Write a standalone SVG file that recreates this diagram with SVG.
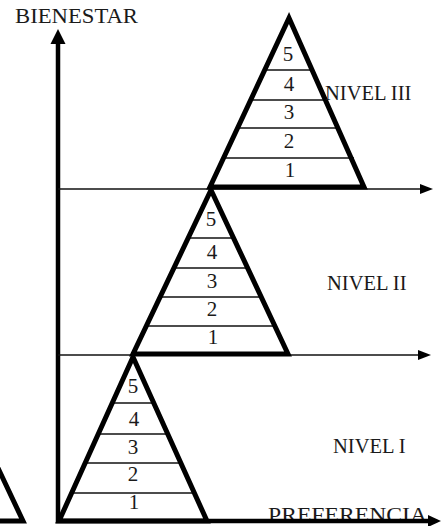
<svg xmlns="http://www.w3.org/2000/svg" width="443" height="526" viewBox="0 0 443 526">
<style>
text{font-family:"Liberation Serif","Times New Roman",serif;fill:#1a1a1a}
.lbl{font-size:20.5px}
.num{font-size:21px;text-anchor:middle}
.tri{fill:none;stroke:#000;stroke-width:5;stroke-linejoin:miter}
.rule{stroke:#111;stroke-width:1.6}
.axis{stroke:#000;stroke-width:4.5;fill:none}
.hl{stroke:#111;stroke-width:1.6;fill:none}
.ah{fill:#000}
</style>
<rect width="443" height="526" fill="#fff"/>
<g id="connectors">
<line class="axis" x1="58" y1="40" x2="58" y2="523"/>
<polygon class="ah" points="58,29 50.5,44 65.5,44"/>
<line class="hl" x1="58" y1="189" x2="424" y2="189"/>
<polygon class="ah" points="433,189 420,184 420,194"/>
<line class="hl" x1="58" y1="355" x2="424" y2="355"/>
<polygon class="ah" points="431,355 418,350 418,360"/>
</g>
<g id="pyramid-III">
<line class="rule" x1="265" y1="70" x2="313" y2="70"/>
<line class="rule" x1="251" y1="100" x2="327" y2="100"/>
<line class="rule" x1="238" y1="128" x2="340" y2="128"/>
<line class="rule" x1="224" y1="158" x2="354" y2="158"/>
<polygon class="tri" points="289,18 210,187 364,187"/>
<text class="num" x="288" y="61">5</text>
<text class="num" x="289" y="91">4</text>
<text class="num" x="289" y="119">3</text>
<text class="num" x="289" y="148">2</text>
<text class="num" x="290" y="177">1</text>
</g>
<g id="pyramid-II">
<line class="rule" x1="188" y1="238" x2="234" y2="238"/>
<line class="rule" x1="174" y1="268" x2="248" y2="268"/>
<line class="rule" x1="161" y1="297" x2="262" y2="297"/>
<line class="rule" x1="148" y1="326" x2="275" y2="326"/>
<polygon class="tri" points="211,190 133,354 288,354"/>
<text class="num" x="211" y="226">5</text>
<text class="num" x="212" y="259">4</text>
<text class="num" x="212" y="288">3</text>
<text class="num" x="212" y="316">2</text>
<text class="num" x="213" y="344">1</text>
</g>
<g id="pyramid-I">
<line class="rule" x1="112" y1="403" x2="154" y2="403"/>
<line class="rule" x1="98" y1="434" x2="168" y2="434"/>
<line class="rule" x1="85" y1="463" x2="181" y2="463"/>
<line class="rule" x1="71" y1="493" x2="194" y2="493"/>
<polygon class="tri" points="133,357 59,521 207,521"/>
<text class="num" x="133" y="393">5</text>
<text class="num" x="134" y="426">4</text>
<text class="num" x="133" y="454">3</text>
<text class="num" x="133" y="481">2</text>
<text class="num" x="134" y="509">1</text>
</g>
<g id="partial-triangle">
<polyline class="tri" points="-2,468 23,521 -2,521"/>
</g>
<g id="labels">
<text class="lbl" x="15" y="23" textLength="123" lengthAdjust="spacingAndGlyphs">BIENESTAR</text>
<text class="lbl" x="325" y="100">NIVEL III</text>
<text class="lbl" x="327" y="290">NIVEL II</text>
<text class="lbl" x="333" y="453">NIVEL I</text>
<text class="lbl" x="268" y="522" textLength="159" lengthAdjust="spacingAndGlyphs">PREFERENCIA</text>
</g>
<g id="bottom-axis">
<line class="axis" x1="56" y1="521" x2="430" y2="521"/>
<polygon class="ah" points="441,521 428,515 428,527"/>
</g>
</svg>
